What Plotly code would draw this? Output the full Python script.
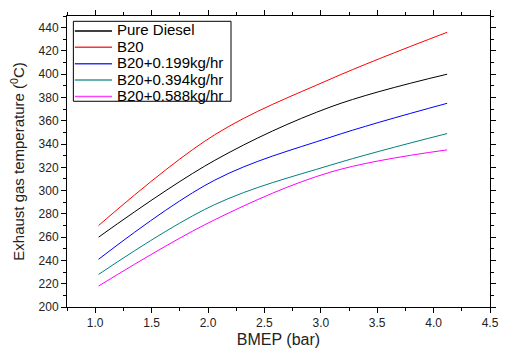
import plotly.graph_objects as go

bmep = [1.03, 2.06, 3.09, 4.12]
pure_diesel = [260, 326, 372, 400]
b20 = [270, 348, 396, 436]
b20_0199 = [241, 309, 346, 375]
b20_0394 = [228, 288, 322, 349]
b20_0588 = [218, 275, 316, 335]

names = ["Pure Diesel", "B20", "B20+0.199kg/hr", "B20+0.394kg/hr", "B20+0.588kg/hr"]
colors = ["#000000", "#FF0000", "#0000FF", "#008080", "#FF00FF"]
legend_colors = ["#000000", "#FF3333", "#3333FF", "#339999", "#FF44FF"]
values = [pure_diesel, b20, b20_0199, b20_0394, b20_0588]

FONT = "Liberation Sans, Arial, sans-serif"

fig = go.Figure()
for name, vals, col in zip(names, values, colors):
    fig.add_trace(go.Scatter(x=bmep, y=vals, name=name, mode="lines", showlegend=False,
                             line=dict(color=col, width=1, shape="spline", smoothing=1.0)))

axis_common = dict(
    showline=True, linecolor="black", linewidth=1, mirror="allticks",
    ticks="outside", ticklen=5, tickcolor="black", showgrid=False, zeroline=False,
    tickfont=dict(family=FONT, size=12, color="#222"),
)
fig.update_xaxes(range=[0.75, 4.5], dtick=0.5, tick0=0, tickformat=".1f",
                 minor=dict(ticks="outside", ticklen=3, dtick=0.25, tick0=0, tickcolor="black"),
                 title=dict(text="BMEP (bar)", font=dict(family=FONT, size=16, color="#222"), standoff=4),
                 **axis_common)
fig.update_yaxes(range=[200, 450], dtick=20, tick0=0,
                 minor=dict(ticks="outside", ticklen=3, dtick=10, tick0=0, tickcolor="black"),
                 title=dict(text="Exhaust gas temperature (<sup>0</sup>C)", font=dict(family=FONT, size=15, color="#222"), standoff=10),
                 **axis_common)

# manual legend (box, line samples, labels) in paper coordinates
L, T, W, H = 67, 10, 432, 302
def px(x):
    return (x - L) / W
def py(y):
    return 1 - (y - T) / H

shapes = [dict(type="rect", xref="paper", yref="paper", x0=px(73.5), x1=px(234.5), y0=py(98.5), y1=py(15.5),
               line=dict(color="black", width=1), fillcolor="white", layer="above")]
annotations = []
row_y = [25.5, 42.5, 59.5, 76.5, 93.5]
for name, col, yc in zip(names, legend_colors, row_y):
    shapes.append(dict(type="line", xref="paper", yref="paper", x0=px(75), x1=px(113), y0=py(yc), y1=py(yc),
                       line=dict(color=col, width=1.5), layer="above"))
    annotations.append(dict(xref="paper", yref="paper", x=px(116), y=py(yc - 1), xanchor="left", yanchor="middle",
                            text=name, showarrow=False, font=dict(family=FONT, size=15, color="black")))

fig.update_layout(
    width=509, height=356,
    margin=dict(l=L, r=10, t=T, b=44),
    plot_bgcolor="white", paper_bgcolor="white",
    shapes=shapes, annotations=annotations,
)
fig.write_html("out.html")
